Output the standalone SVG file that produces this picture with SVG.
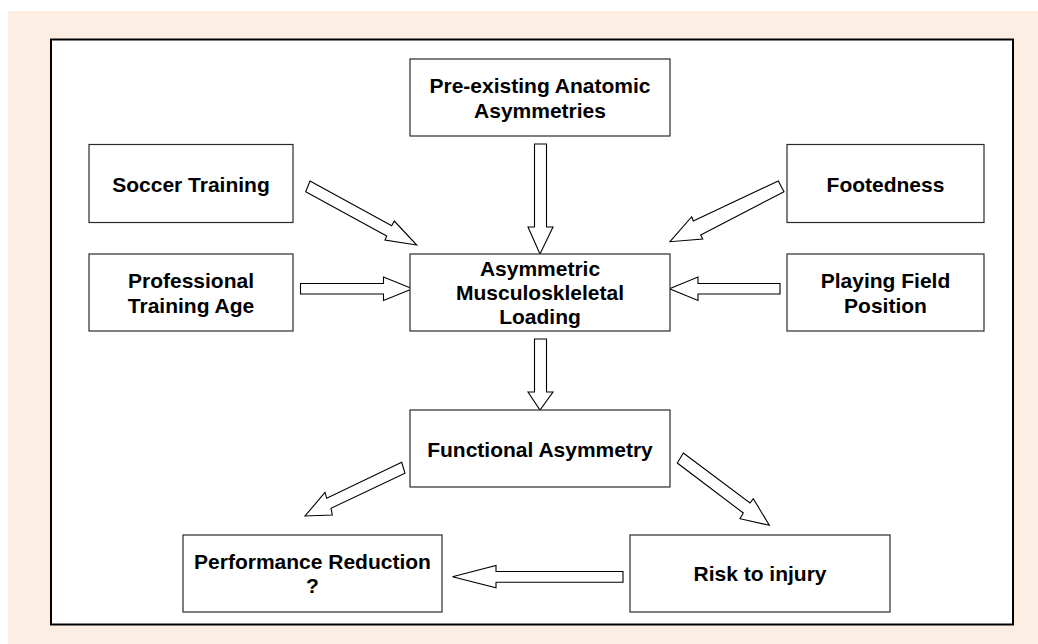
<svg xmlns="http://www.w3.org/2000/svg" width="1038" height="644" viewBox="0 0 1038 644">
<style>
.box{fill:#fff;stroke:#2a2a2a;stroke-width:1.2}
.arr{fill:#fff;stroke:#000;stroke-width:1.1;stroke-linejoin:miter}
text{font-family:"Liberation Sans",Arial,sans-serif;font-weight:bold;font-size:21px;fill:#000;text-anchor:middle}
</style>
<rect x="0" y="0" width="1038" height="644" fill="#fff"/>
<rect x="8" y="11" width="1030" height="633" fill="#FDEEE4"/>
<rect x="51" y="39.5" width="962" height="585" fill="#fff" stroke="#000" stroke-width="2"/>
<g id="connectors">
<polygon class="arr" points="534.5,144 546.5,144 546.5,227 553,227 540,254 528,227 534.5,227"/>
<polygon class="arr" points="534.5,339 546.5,339 546.5,392 553,392 540,410 528,392 534.5,392"/>
<polygon class="arr" points="300.5,283.5 383.5,283.5 383.5,277 412.5,288.7 383.5,300.5 383.5,294 300.5,294"/>
<polygon class="arr" points="780,283.5 698,283.5 698,277 669.5,288.7 698,300.5 698,294 780,294"/>
<polygon class="arr" points="623,571.5 496,571.5 496,565.5 452.5,576.7 496,587.7 496,582.3 623,582.3"/>
<polygon class="arr" points="310,181 391.7,225.7 394.3,221 416.7,245 385,240 386.7,236 305.7,191.7"/>
<polygon class="arr" points="778.3,181 693.3,221 691.7,216.7 670,241.7 702.7,239 700.7,235 784,191.7"/>
<polygon class="arr" points="401.7,462.3 326.7,498.3 325,492.3 305,516 332.3,515 331,508.3 405,473.3"/>
<polygon class="arr" points="683.3,453 750,503 753.3,498.7 769.3,525.3 740,518.7 743.3,513 677.3,463"/>
</g>
<g id="pre-existing">
<rect class="box" x="410" y="59" width="260" height="77"/>
<text x="540" y="93.3">Pre-existing Anatomic</text>
<text x="540" y="118.3">Asymmetries</text>
</g>
<g id="soccer-training">
<rect class="box" x="89" y="144.5" width="204" height="78"/>
<text x="191" y="191.7">Soccer Training</text>
</g>
<g id="footedness">
<rect class="box" x="787" y="144.5" width="197" height="78"/>
<text x="885.5" y="191.7">Footedness</text>
</g>
<g id="professional-training-age">
<rect class="box" x="89" y="254" width="204" height="77"/>
<text x="191" y="288.3">Professional</text>
<text x="191" y="313.3">Training Age</text>
</g>
<g id="asymmetric-loading">
<rect class="box" x="410" y="254" width="260" height="77"/>
<text x="540" y="275.7">Asymmetric</text>
<text x="540" y="299.8">Musculoskleletal</text>
<text x="540" y="324">Loading</text>
</g>
<g id="playing-field-position">
<rect class="box" x="787" y="254" width="197" height="77"/>
<text x="885.5" y="288.3">Playing Field</text>
<text x="885.5" y="313.3">Position</text>
</g>
<g id="functional-asymmetry">
<rect class="box" x="410" y="410" width="260" height="77"/>
<text x="540" y="456.7">Functional Asymmetry</text>
</g>
<g id="performance-reduction">
<rect class="box" x="183" y="535" width="259" height="77"/>
<text x="312.5" y="569.3">Performance Reduction</text>
<text x="312.5" y="593.3">?</text>
</g>
<g id="risk-to-injury">
<rect class="box" x="630" y="535" width="260" height="77"/>
<text x="760" y="580.7">Risk to injury</text>
</g>
</svg>
